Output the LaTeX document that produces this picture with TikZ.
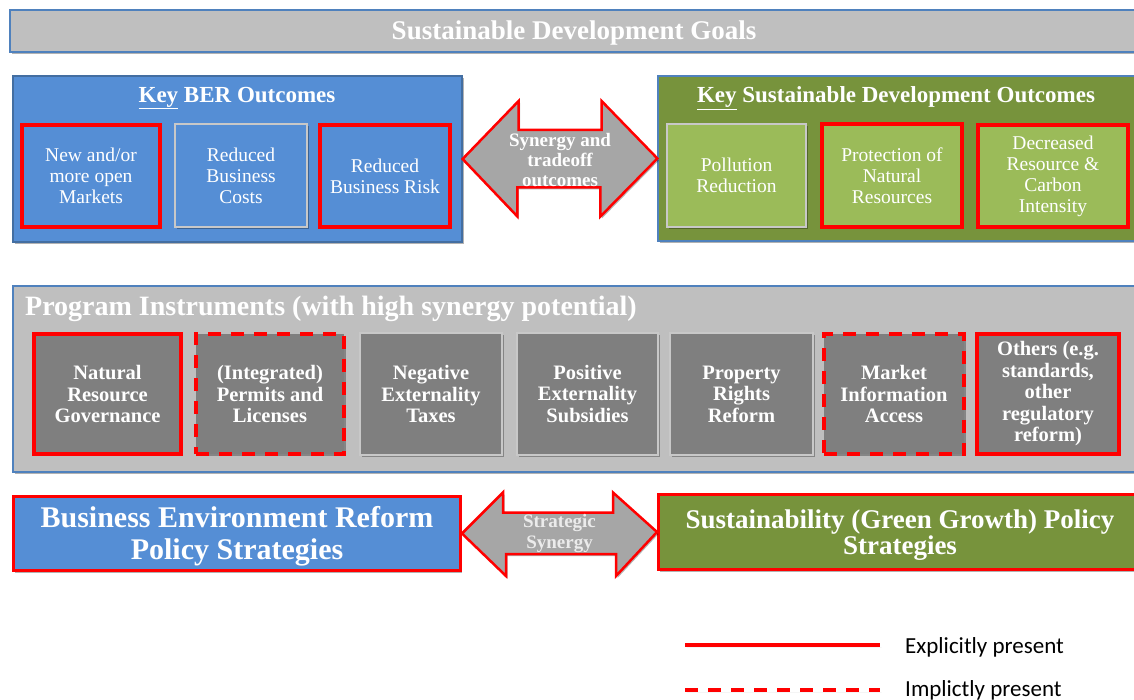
\documentclass[tikz,border=0pt]{standalone}
\usepackage{fontspec}
\setmainfont{Liberation Serif}
\newfontfamily\legendfont{Carlito}
\usetikzlibrary{calc,shadows}

\definecolor{sdggray}{HTML}{BFBFBF}
\definecolor{frameblue}{HTML}{4F81BD}
\definecolor{berblue}{HTML}{558ED5}
\definecolor{sdgreen}{HTML}{77933C}
\definecolor{leafgreen}{HTML}{9BBB59}
\definecolor{instgray}{HTML}{7F7F7F}
\definecolor{arrowgray}{HTML}{A6A6A6}
\definecolor{edgegray}{HTML}{C8C8C8}

\tikzset{
  softshadow/.style={drop shadow={shadow xshift=1.5pt,shadow yshift=-2pt,opacity=.3,fill=black}},
  panel/.style={rectangle,draw=frameblue,line width=1.2pt,inner sep=0pt,softshadow},
  heading/.style={inner sep=0pt,text=white,font=\bfseries\fontsize{23}{26}\selectfont},
  cell/.style={rectangle,inner sep=0pt,align=center,text=white,softshadow},
  plainedge/.style={draw=edgegray,line width=1.5pt},
  redsolid/.style={draw=red,line width=4pt},
  reddashed/.style={draw=red,line width=4pt,dash pattern=on 13pt off 10pt},
  outcome/.style={cell,font=\fontsize{19.5}{21}\selectfont},
  instrument/.style={cell,fill=instgray,font=\bfseries\fontsize{20.5}{21.5}\selectfont},
  strategy/.style={cell,redsolid,line width=3pt},
  stratlabel/.style={inner sep=0pt,align=center,text=white,font=\bfseries\fontsize{30}{32}\selectfont},
  duo/.style={fill=arrowgray,draw=red,line width=2.5pt,line join=miter,softshadow},
  duolabel/.style={inner sep=0pt,align=center,text=white,font=\bfseries\fontsize{19}{20}\selectfont},
  legendtext/.style={anchor=west,inner sep=0pt,font=\legendfont\fontsize{23}{24}\selectfont}
}

\begin{document}
\begin{tikzpicture}[x=1pt,y=-1pt]
  \useasboundingbox (0,0) rectangle (1134,700);
  \clip (0,0) rectangle (1134,700);

  % goals bar
  \node[panel,fill=sdggray,minimum width=1128,minimum height=42] (sdg) at (574,31) {};
  \node[heading,font=\bfseries\fontsize{27}{30}\selectfont] (sdgtitle) at (574,33) {Sustainable Development Goals};

  % BER outcomes
  \node[panel,draw=frameblue!85!black,fill=berblue,minimum width=449,minimum height=166] (ber) at (237.5,159) {};
  \node[heading] (bertitle) at (237,98) {\underline{Key} BER Outcomes};
  \node[outcome,fill=berblue,redsolid,minimum width=138,minimum height=102] (b1) at (91,176) {New and/or\\more open\\Markets};
  \node[outcome,fill=berblue,plainedge,minimum width=132,minimum height=103] (b2) at (241,175.5) {Reduced\\Business\\Costs};
  \node[outcome,fill=berblue,redsolid,minimum width=130,minimum height=102] (b3) at (385,176) {Reduced\\Business Risk};

  % sustainable development outcomes
  \node[panel,draw=frameblue,fill=sdgreen,minimum width=478,minimum height=165] (sdo) at (897,158.5) {};
  \node[heading] (sdotitle) at (896,98) {\underline{Key} Sustainable\ Development Outcomes};
  \node[outcome,fill=leafgreen,plainedge,minimum width=139,minimum height=103] (g1) at (736.5,175.5) {Pollution\\Reduction};
  \node[outcome,fill=leafgreen,redsolid,minimum width=140,minimum height=103] (g2) at (892,175.5) {Protection of\\Natural\\Resources};
  \node[outcome,fill=leafgreen,redsolid,minimum width=150,minimum height=102] (g3) at (1053,176) {Decreased\\Resource \&\\Carbon\\Intensity};

  % synergy arrow between the outcome panels
  \draw[duo] (ber.east) -- ++(56,-58) -- ++(0,29) -- ++(83,0) -- ++(0,-29) -- (sdo.west)
    -- ++(-57,58) -- ++(0,-29) -- ++(-83,0) -- ++(0,29) -- cycle;
  \node[duolabel] (syn) at ($(ber.east)!.5!(sdo.west)+(0,1)$) {Synergy and\\tradeoff\\outcomes};

  % program instruments
  \node[panel,fill=sdggray,minimum width=1125,minimum height=186] (prog) at (575.5,379) {};
  \node[heading,anchor=west,font=\bfseries\fontsize{28}{30}\selectfont] (progtitle) at (25,309) {Program Instruments (with high synergy potential)};
  \node[instrument,redsolid,minimum width=147,minimum height=120] (i1) at (107.5,394) {Natural\\Resource\\Governance};
  \node[instrument,reddashed,minimum width=148,minimum height=120] (i2) at (270,394) {(Integrated)\\Permits and\\Licenses};
  \node[instrument,plainedge,minimum width=142,minimum height=122] (i3) at (431,394) {Negative\\Externality\\Taxes};
  \node[instrument,plainedge,minimum width=141,minimum height=122] (i4) at (587.5,394) {Positive\\Externality\\Subsidies};
  \node[instrument,plainedge,minimum width=143,minimum height=122] (i5) at (741.5,394) {Property\\Rights\\Reform};
  \node[instrument,reddashed,minimum width=140,minimum height=120] (i6) at (894,394) {Market\\Information\\Access};
  \node[instrument,redsolid,minimum width=142,minimum height=120] (i7) at (1048,394) {Others (e.g.\\standards,\\other\\regulatory\\reform)};

  % policy strategies
  \node[strategy,fill=berblue,minimum width=447,minimum height=74] (berpol) at (237,533.5) {};
  \node[stratlabel] (berpoltext) at ($(berpol.center)+(0,3)$) {Business Environment Reform\\Policy Strategies};
  \node[strategy,fill=sdgreen,minimum width=483,minimum height=75] (sgpol) at (900,532) {};
  \node[stratlabel,font=\bfseries\fontsize{27}{26}\selectfont] (sgpoltext) at ($(sgpol.center)+(0,3)$) {Sustainability (Green Growth) Policy\\Strategies};
  \draw[duo] (berpol.east) -- ++(41,-41) -- ++(0,20) -- ++(110,0) -- ++(0,-20) -- (sgpol.west)
    -- ++(-41,44) -- ++(0,-22) -- ++(-110,0) -- ++(0,22) -- cycle;
  \node[duolabel,text=white!92!black,font=\bfseries\fontsize{19}{21}\selectfont] (strat) at ($(berpol.east)!.5!(sgpol.west)+(0,1)$) {Strategic\\Synergy};

  % legend
  \node[legendtext] (expl) at (905,647) {Explicitly present};
  \node[legendtext] (impl) at (905,690) {Implictly present};
  \draw[redsolid,softshadow] ($(expl.west)+(-220,-2)$) -- ($(expl.west)+(-25,-2)$);
  \draw[reddashed,softshadow] ($(impl.west)+(-220,0)$) -- ($(impl.west)+(-25,0)$);
\end{tikzpicture}
\end{document}
